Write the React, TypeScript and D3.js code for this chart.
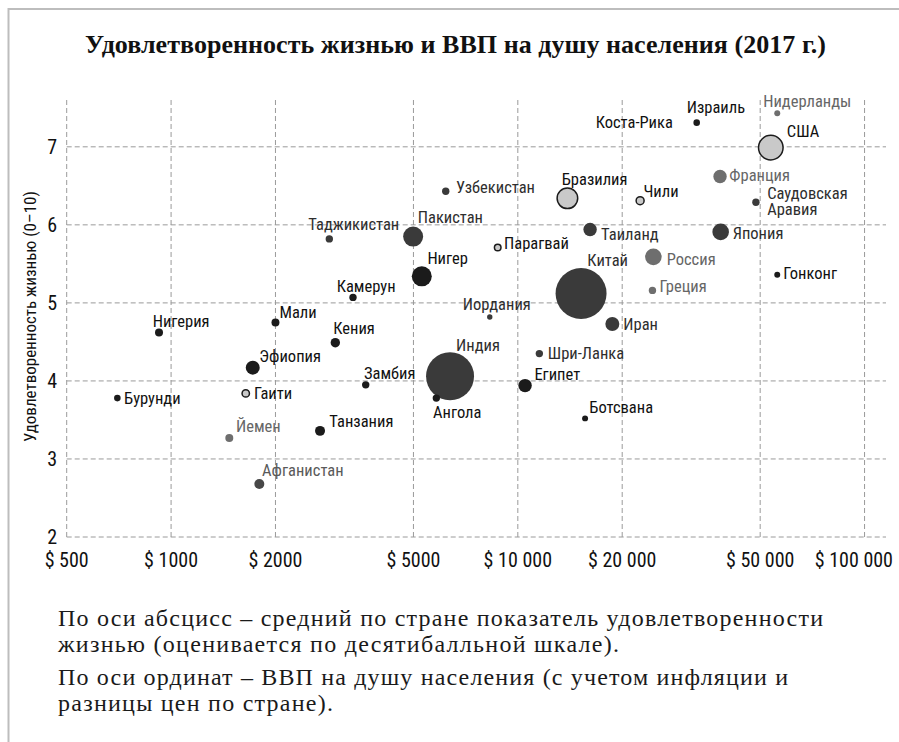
import React from "react";
import * as d3 from "d3";

// ---------- data ----------
const countries = [
  "Бурунди", "Нигерия", "Мали", "Эфиопия", "Гаити", "Йемен", "Афганистан", "Танзания",
  "Кения", "Камерун", "Замбия", "Нигер", "Ангола", "Индия", "Китай", "Египет",
  "Шри-Ланка", "Ботсвана", "Иран", "Иордания", "Парагвай", "Пакистан", "Таджикистан", "Узбекистан",
  "Бразилия", "Чили", "Таиланд", "Россия", "Греция", "Израиль", "Коста-Рика", "Нидерланды",
  "США", "Франция", "Саудовская Аравия", "Япония", "Гонконг",
];
const gdpPerCapita = [
  700, 923, 2000, 1720, 1642, 1472, 1797, 2689,
  2976, 3347, 3642, 5285, 5821, 6376, 15220, 10494,
  11536, 15630, 18733, 8300, 8750, 4990, 2860, 6196,
  13900, 22527, 16160, 24600, 24450, 32800, 28000, 56000,
  53650, 38300, 48600, 38460, 56000,
];
const lifeSatisfaction = [
  3.78, 4.62, 4.75, 4.17, 3.84, 3.27, 2.68, 3.36,
  4.49, 5.07, 3.95, 5.34, 3.78, 4.06, 5.12, 3.94,
  4.35, 3.52, 4.73, 4.82, 5.71, 5.85, 5.82, 6.43,
  6.34, 6.31, 5.94, 5.59, 5.16, 7.31, 7.24, 7.43,
  6.99, 6.62, 6.29, 5.91, 5.36,
];
const population = [
  23, 34, 34, 104, 29, 34, 53, 53,
  47, 29, 29, 213, 29, 1227, 1386, 96,
  29, 19, 104, 15.5, 23, 213, 29, 29,
  226, 34, 96, 147, 29, 23, 0, 19,
  322, 96, 29, 147, 19,
];
const groups = [
  "black", "black", "black", "black", "light", "gray", "mid", "black",
  "black", "black", "black", "black", "black", "dark", "dark", "black",
  "dark", "black", "dark", "dark", "light", "dark", "dark", "dark",
  "light", "light", "dark", "gray", "gray", "black", "black", "gray",
  "light", "gray", "dark", "dark", "black",
];
const xTicks = [500, 1000, 2000, 5000, 10000, 20000, 50000, 100000];
const xTickLabels = ["$ 500", "$ 1000", "$ 2000", "$ 5000", "$ 10 000", "$ 20 000", "$ 50 000", "$ 100 000"];
const yTicks = [2, 3, 4, 5, 6, 7];

const title = "Удовлетворенность жизнью и ВВП на душу населения (2017 г.)";
const yAxisTitle = "Удовлетворенность жизнью (0–10)";
const notes = [
  "По оси абсцисс – средний по стране показатель удовлетворенности",
  "жизнью (оценивается по десятибалльной шкале).",
  "По оси ординат – ВВП на душу населения (с учетом инфляции и",
  "разницы цен по стране).",
];

// ---------- layout / style ----------
const labelLayout: Record<string, [number, number, string?]> = {
  "Бурунди": [6.7, 5.5], "Нигерия": [-6.3, -6], "Мали": [4, -4.4], "Эфиопия": [6.6, -6],
  "Гаити": [8.3, 5.6], "Йемен": [6.7, -6], "Афганистан": [2.7, -7.6], "Танзания": [9.3, -4.3],
  "Кения": [-2, -9], "Камерун": [-16.3, -5.6], "Замбия": [-1.7, -6], "Нигер": [5.6, -12.4],
  "Ангола": [-3.3, 19.6], "Индия": [6, -25.3], "Китай": [6.3, -28], "Египет": [9.3, -6],
  "Шри-Ланка": [8.4, 5.5], "Ботсвана": [4.3, -5.4], "Иран": [11, 5.7], "Иордания": [-27, -6.7],
  "Парагвай": [6.3, 2], "Пакистан": [4.6, -14], "Таджикистан": [-21, -9.3], "Узбекистан": [10.3, 2],
  "Бразилия": [-5.6, -13.3], "Чили": [3.3, -4], "Таиланд": [11, 10.7], "Россия": [13.3, 7.7],
  "Греция": [7, 1.7], "Израиль": [-10, -9.4], "Коста-Рика": [0, 0, "end"], "Нидерланды": [-14, -6.6],
  "США": [16, -11], "Франция": [9.3, 4.3], "Саудовская Аравия": [11.3, -3.5], "Япония": [12, 7.3],
  "Гонконг": [6, 4],
};
const groupFill: Record<string, string> = {
  black: "#1b1b1b", dark: "#3a3a3a", mid: "#474747", gray: "#6e6e6e", light: "#c9c9c9",
};
const groupText: Record<string, string> = {
  black: "#111111", dark: "#2e2e2e", mid: "#5a5a5a", gray: "#666666", light: "#111111",
};

const W = 899;
const H = 742;
const plot = { left: 66.7, right: 886, top: 100, bottom: 537 };
const condensed = "'Liberation Sans Narrow', 'Roboto Condensed', 'DejaVu Sans Condensed', 'Arial Narrow', sans-serif";
const serif = "'Liberation Serif', 'DejaVu Serif', serif";

export default function App() {
  const x = d3.scaleLog().domain([500, 115300]).range([plot.left, plot.right]);
  const y = d3.scaleLinear().domain([2, 7.6]).range([plot.bottom, plot.top]);
  const r = d3.scaleSqrt().domain([0, 1386]).range([0, 25.5]);

  const points = countries.map((name, i) => ({
    name,
    gdp: gdpPerCapita[i],
    ls: lifeSatisfaction[i],
    pop: population[i],
    group: groups[i],
  }));
  const drawOrder = [...points].sort((a, b) => b.pop - a.pop);

  return (
    <svg
      width={W}
      height={H}
      viewBox={`0 0 ${W} ${H}`}
      style={{ position: "absolute", left: 0, top: 0, background: "#fff" }}
    >
      <rect x={0} y={0} width={W} height={H} fill="#fff" />
      {/* frame */}
      <line x1={8} x2={W} y1={9} y2={9} stroke="#bdbdbd" strokeWidth={2} />
      <line x1={8.5} x2={8.5} y1={8} y2={H} stroke="#bdbdbd" strokeWidth={2} />

      {/* title */}
      <text
        x={85}
        y={53}
        fontFamily={serif}
        fontWeight="bold"
        fontSize={26}
        fill="#111"
        textLength={741}
        lengthAdjust="spacing"
      >
        {title}
      </text>

      {/* grid */}
      <g stroke="#9a9a9a" strokeWidth={1} strokeDasharray="5,3" fill="none">
        {xTicks.map((t) => (
          <line key={"vx" + t} x1={x(t)} x2={x(t)} y1={plot.top} y2={plot.bottom} />
        ))}
        {yTicks.map((t) => (
          <line key={"hy" + t} x1={plot.left} x2={plot.right} y1={y(t)} y2={y(t)} />
        ))}
      </g>

      {/* y tick labels */}
      {yTicks.map((t) => (
        <text
          key={"yl" + t}
          x={57}
          y={y(t)}
          dy="0.36em"
          textAnchor="end"
          fontFamily={condensed}
          fontSize={20}
          fill="#111"
        >
          {t}
        </text>
      ))}
      {/* x tick labels */}
      {xTicks.map((t, i) => {
        const last = i === xTicks.length - 1;
        return (
          <text
            key={"xl" + t}
            x={last ? 893 : x(t)}
            y={567}
            textAnchor={last ? "end" : "middle"}
            fontFamily={condensed}
            fontSize={20}
            fill="#111"
          >
            {xTickLabels[i]}
          </text>
        );
      })}

      {/* y axis title */}
      <text
        transform={`translate(36, ${(plot.top + plot.bottom) / 2 - 2}) rotate(-90)`}
        textAnchor="middle"
        fontFamily={condensed}
        fontSize={17}
        fill="#111"
      >
        {yAxisTitle}
      </text>

      {/* bubbles */}
      {drawOrder.map((p) =>
        p.pop > 0 ? (
          <circle
            key={"c" + p.name}
            cx={x(p.gdp)}
            cy={y(p.ls)}
            r={r(p.pop)}
            fill={groupFill[p.group]}
            stroke={p.group === "light" ? "#1b1b1b" : "none"}
            strokeWidth={p.group === "light" ? 1.5 : 0}
          />
        ) : null
      )}

      {/* labels */}
      {points.map((p) => {
        const [dx, dy, anchor] = labelLayout[p.name] || [6, 4];
        const parts = p.name === "Саудовская Аравия" ? ["Саудовская", "Аравия"] : [p.name];
        return (
          <text
            key={"t" + p.name}
            x={x(p.gdp) + dx}
            y={y(p.ls) + dy}
            textAnchor={anchor || "start"}
            fontFamily={condensed}
            fontSize={16.5}
            fill={groupText[p.group]}
          >
            {parts.map((s, k) => (
              <tspan key={k} x={x(p.gdp) + dx} dy={k === 0 ? 0 : 16.5}>
                {s}
              </tspan>
            ))}
          </text>
        );
      })}

      {/* notes */}
      {notes.map((line, i) => {
        const baselines = [626, 652, 685, 711];
        const widths = [765, 561, 730, 275];
        return (
          <text
            key={"n" + i}
            x={58}
            y={baselines[i]}
            fontFamily={serif}
            fontSize={24}
            fill="#1a1a1a"
            textLength={widths[i]}
            lengthAdjust="spacing"
          >
            {line}
          </text>
        );
      })}
    </svg>
  );
}
